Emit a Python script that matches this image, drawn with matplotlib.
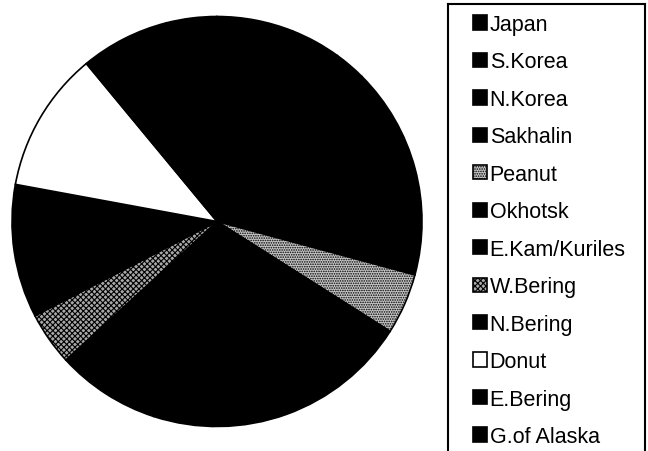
import matplotlib
matplotlib.use("Agg")
import matplotlib.pyplot as plt
from matplotlib.lines import Line2D

plt.rcParams['font.family'] = ['Liberation Sans', 'DejaVu Sans']
plt.rcParams['hatch.linewidth'] = 0.8

labels = ["Japan", "S.Korea", "N.Korea", "Sakhalin", "Peanut", "Okhotsk",
          "E.Kam/Kuriles", "W.Bering", "N.Bering", "Donut", "E.Bering", "G.of Alaska"]
values = [6.0, 4.0, 2.5, 16.7, 4.8, 21.0, 8.2, 4.2, 10.5, 11.1, 7.0, 4.0]
facecolors = ["black", "black", "black", "black", "#c8c8c8", "black",
              "black", "#a8a8a8", "black", "white", "black", "black"]
hatches = [None, None, None, None, ".......", None, None, "xxxxxx", None, None, None, None]

W, H = 648, 452
fig = plt.figure(figsize=(W / 100, H / 100), dpi=100)

cx, cy, r = 217, 222.5, 205
ax = fig.add_axes([(cx - r) / W, (H - cy - r) / H, 2 * r / W, 2 * r / H])
wedges, _ = ax.pie(values, startangle=90, counterclock=False, radius=1,
                   colors=facecolors,
                   wedgeprops=dict(edgecolor="black", linewidth=1.2))
for w, h in zip(wedges, hatches):
    if h:
        w.set_hatch(h)
ax.set_xlim(-1, 1)
ax.set_ylim(-1, 1)
ax.set_aspect("equal")
ax.axis("off")

# legend frame (bottom cut off by the figure edge)
def fx(x):
    return x / W

def fy(y):
    return 1 - y / H

lw = 1.5
fig.add_artist(Line2D([fx(448), fx(448)], [fy(5), fy(460)], color="black", lw=lw, transform=fig.transFigure))
fig.add_artist(Line2D([fx(448), fx(645)], [fy(5), fy(5)], color="black", lw=lw, transform=fig.transFigure))
fig.add_artist(Line2D([fx(645), fx(645)], [fy(5), fy(460)], color="black", lw=lw, transform=fig.transFigure))

leg = fig.legend(wedges, labels, loc="upper left",
                 bbox_to_anchor=(fx(473), fy(15.0)),
                 frameon=False, fontsize=15.5, borderpad=0, borderaxespad=0,
                 handlelength=0.65, handleheight=0.65, handletextpad=0.12,
                 labelspacing=0.765)

fig.savefig("out.png", dpi=100)
